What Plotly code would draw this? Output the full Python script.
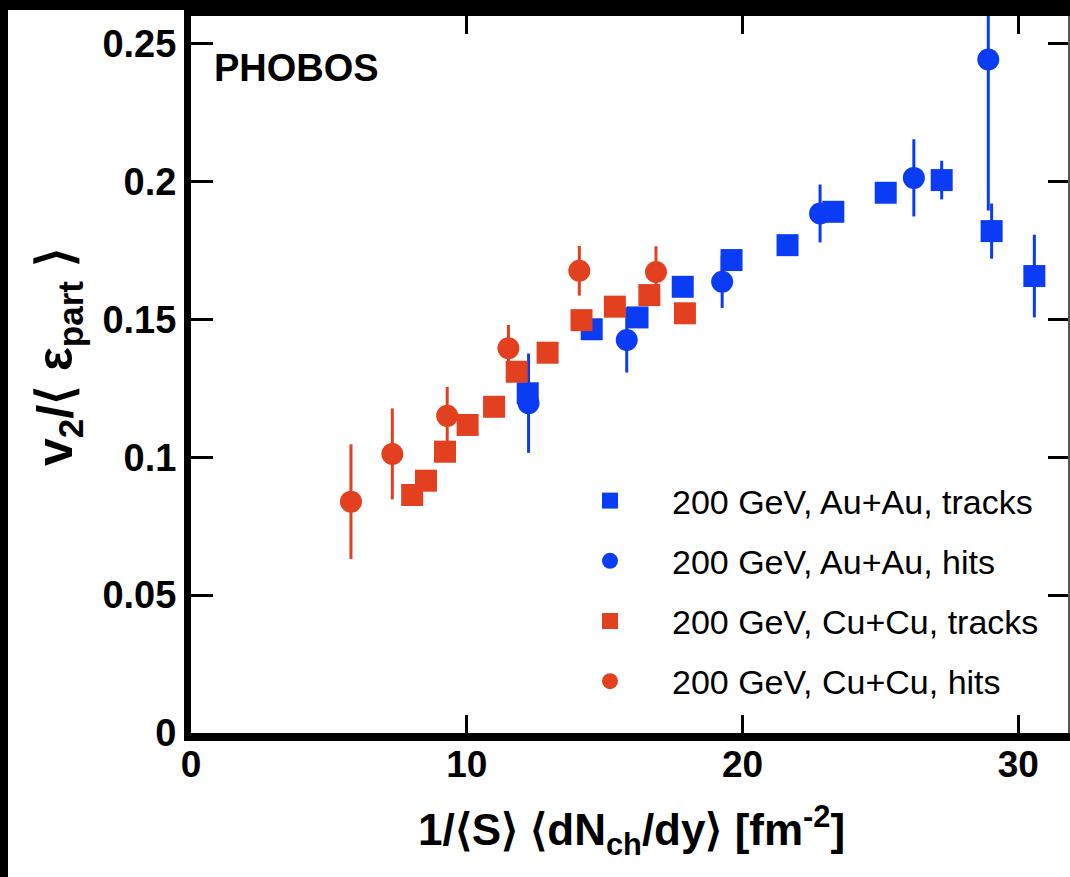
import plotly.graph_objects as go

# ---- data ----
au_tracks_x = [12.21, 14.53, 16.19, 17.83, 19.60, 21.63, 23.29, 25.19, 27.22, 29.03, 30.58]
au_tracks_y = [0.1232, 0.1464, 0.1507, 0.1618, 0.1715, 0.1769, 0.1890, 0.1959, 0.2005, 0.1820, 0.1657]
au_tracks_e = [0.004, 0.003, 0.003, 0.003, 0.003, 0.003, 0.003, 0.003, 0.007, 0.010, 0.015]

au_hits_x = [12.24, 15.80, 19.26, 22.81, 26.21, 28.91]
au_hits_y = [0.1196, 0.1425, 0.1636, 0.1884, 0.2013, 0.2442]
au_hits_e = [0.018, 0.0118, 0.0095, 0.0105, 0.014, 0.0547]

cu_tracks_x = [8.02, 8.52, 9.21, 10.03, 10.99, 11.81, 12.93, 14.16, 15.37, 16.62, 17.91]
cu_tracks_y = [0.0863, 0.0915, 0.1020, 0.1117, 0.1183, 0.1310, 0.1379, 0.1497, 0.1546, 0.1588, 0.1522]
cu_tracks_e = [0.003] * 11

cu_hits_x = [5.80, 7.30, 9.29, 11.51, 14.08, 16.86]
cu_hits_y = [0.0839, 0.1012, 0.1150, 0.1395, 0.1676, 0.1672]
cu_hits_e = [0.0208, 0.0165, 0.0105, 0.0085, 0.009, 0.0093]

labels = ["200 GeV, Au+Au, tracks", "200 GeV, Au+Au, hits",
          "200 GeV, Cu+Cu, tracks", "200 GeV, Cu+Cu, hits"]

BLUE = "#0a3cf5"
RED = "#e2401f"
FONT = "Liberation Sans"

series = [
    (au_tracks_x, au_tracks_y, au_tracks_e, "square", BLUE, labels[0]),
    (au_hits_x, au_hits_y, au_hits_e, "circle", BLUE, labels[1]),
    (cu_tracks_x, cu_tracks_y, cu_tracks_e, "square", RED, labels[2]),
    (cu_hits_x, cu_hits_y, cu_hits_e, "circle", RED, labels[3]),
]

fig = go.Figure()
for i, (x, y, e, sym, col, name) in enumerate(series):
    fig.add_trace(go.Scatter(
        x=x, y=y, mode="markers", name=name, legendgroup=f"g{i}",
        marker=dict(symbol=sym, size=22, color=col, line=dict(width=0)),
        error_y=dict(type="data", array=e, visible=True, color=col, thickness=3, width=0),
        cliponaxis=True,
    ))

# empty trace to activate the right-hand tick axis
fig.add_trace(go.Scatter(x=[], y=[], yaxis="y2", showlegend=False, hoverinfo="skip"))

W, H = 1070, 877
L, R, T, B = 191, 2, 16, 144
pw, ph = W - L - R, H - T - B

def px_x(p):
    return (p - L) / pw

def px_y(q):
    return (H - B - q) / ph

fig.update_layout(
    width=W, height=H,
    margin=dict(l=L, r=R, t=T, b=B, pad=0),
    paper_bgcolor="black", plot_bgcolor="white",
    showlegend=True,
    legend=dict(
        x=px_x(548), y=px_y(472), xanchor="left", yanchor="top",
        bgcolor="rgba(255,255,255,0)", borderwidth=0,
        font=dict(family=FONT, size=34, color="black"),
        itemwidth=114, tracegroupgap=13, traceorder="grouped",
    ),
    xaxis=dict(
        range=[0, 31.8], tickvals=[0, 10, 20, 30], ticktext=["0", "10", "20", "30"],
        showline=True, linewidth=8, linecolor="black", mirror="ticks",
        ticks="inside", ticklen=18, tickwidth=3, tickcolor="black",
        showgrid=False, zeroline=False, ticklabelstandoff=-8,
        tickfont=dict(family=FONT, size=37, color="black", weight="bold"),
    ),
    yaxis=dict(
        range=[0, 0.26], tickvals=[0, 0.05, 0.1, 0.15, 0.2, 0.25],
        ticktext=["0", "0.05", "0.1", "0.15", "0.2", "0.25"],
        showline=True, linewidth=7, linecolor="black", mirror=False,
        ticks="inside", ticklen=22, tickwidth=3, tickcolor="black",
        showgrid=False, zeroline=False,
        tickfont=dict(family=FONT, size=38, color="black", weight="bold"),
    ),
    yaxis2=dict(
        range=[0, 0.26], tickvals=[0, 0.05, 0.1, 0.15, 0.2, 0.25],
        overlaying="y", side="right", showticklabels=False,
        showline=True, linewidth=2, linecolor="#555555",
        ticks="inside", ticklen=20, tickwidth=3, tickcolor="black",
        showgrid=False, zeroline=False,
    ),
    shapes=[dict(type="rect", xref="paper", yref="paper",
                 x0=px_x(8), x1=px_x(1075), y0=px_y(882), y1=px_y(10),
                 fillcolor="white", line=dict(width=0), layer="below")],
    annotations=[
        dict(text="<b>PHOBOS</b>", xref="paper", yref="paper",
             x=px_x(212), y=px_y(68), xanchor="left", yanchor="middle",
             showarrow=False, font=dict(family=FONT, size=38, color="black")),
        dict(text="<b>1/⟨S⟩ ⟨dN<sub>ch</sub>/dy⟩ [fm<sup>-2</sup>]</b>",
             xref="paper", yref="paper", x=px_x(631), y=px_y(830),
             xanchor="center", yanchor="middle", showarrow=False,
             font=dict(family=FONT, size=44, color="black")),
        dict(text="<b>v<sub>2</sub>/⟨ ε<sub>part</sub> ⟩</b>",
             xref="paper", yref="paper", x=px_x(58), y=px_y(357),
             xanchor="center", yanchor="middle", showarrow=False, textangle=-90,
             font=dict(family=FONT, size=50, color="black")),
    ],
)

fig.write_html("out.html")
